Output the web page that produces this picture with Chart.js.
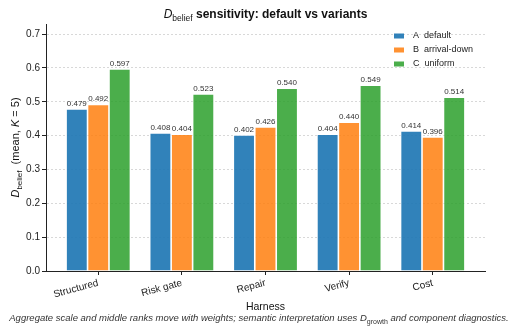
<!DOCTYPE html>
<html>
<head>
<meta charset="utf-8">
<script src="https://cdn.jsdelivr.net/npm/chart.js@4.4.0/dist/chart.umd.min.js"></script>
<style>
    html, body { margin: 0; padding: 0; background: #fff; }
    #wrap { width: 518px; height: 330px; }
</style>
</head>
<body>
<div id="wrap"><canvas id="beliefChart" width="518" height="330"></canvas></div>
<script>
// data
const harnesses = ['Structured', 'Risk gate', 'Repair', 'Verify', 'Cost'];
const variantLabels = ['A  default', 'B  arrival-down', 'C  uniform'];
const defaultVals = [0.479, 0.408, 0.402, 0.404, 0.414];
const arrivalDownVals = [0.492, 0.404, 0.426, 0.440, 0.396];
const uniformVals = [0.597, 0.523, 0.540, 0.549, 0.514];
const yTickVals = [0.0, 0.1, 0.2, 0.3, 0.4, 0.5, 0.6, 0.7];

const barColors = ['rgba(31,119,180,0.92)', 'rgba(255,127,14,0.85)', 'rgba(44,160,44,0.85)'];
const FONT = '"Liberation Sans", Arial, Helvetica, sans-serif';
Chart.defaults.font.family = FONT;
Chart.defaults.color = '#222';

function toPoints(vals) {
    return vals.map((v, i) => ({ x: i, y: v }));
}

// draws a list of text pieces (for subscripts / italics) centred at x,y
function drawRich(ctx, parts, x, y) {
    let total = 0;
    parts.forEach(p => { ctx.font = p.font; total += ctx.measureText(p.text).width; });
    let cx = x - total / 2;
    ctx.textAlign = 'left';
    ctx.textBaseline = 'alphabetic';
    parts.forEach(p => {
        ctx.font = p.font;
        ctx.fillText(p.text, cx, y + (p.dy || 0));
        cx += ctx.measureText(p.text).width;
    });
}

const textPlugin = {
    id: 'textPlugin',
    afterDatasetsDraw(chart) {
        const ctx = chart.ctx;
        // value labels on top of bars
        ctx.save();
        ctx.fillStyle = '#333';
        ctx.font = '8px ' + FONT;
        ctx.textAlign = 'center';
        ctx.textBaseline = 'bottom';
        chart.data.datasets.forEach((ds, di) => {
            chart.getDatasetMeta(di).data.forEach((bar, i) => {
                ctx.fillText(ds.data[i].y.toFixed(3), bar.x, bar.y - 1.5);
            });
        });
        ctx.restore();
    },
    afterDraw(chart) {
        const ctx = chart.ctx;
        const area = chart.chartArea;
        ctx.save();
        ctx.fillStyle = '#111';

        // title
        drawRich(ctx, [
            { text: 'D', font: 'italic 12px ' + FONT },
            { text: 'belief', font: '8.5px ' + FONT, dy: 2.5 },
            { text: ' sensitivity: default vs variants', font: 'bold 12px ' + FONT }
        ], (area.left + area.right) / 2, 18);

        // y axis title
        ctx.save();
        ctx.translate(19, (area.top + area.bottom) / 2);
        ctx.rotate(-Math.PI / 2);
        drawRich(ctx, [
            { text: 'D', font: 'italic 11px ' + FONT },
            { text: 'belief', font: '8px ' + FONT, dy: 2.5 },
            { text: '  (mean, ', font: '11px ' + FONT },
            { text: 'K', font: 'italic 11px ' + FONT },
            { text: ' = 5)', font: '11px ' + FONT }
        ], 0, 0);
        ctx.restore();

        // caption
        ctx.fillStyle = '#333';
        drawRich(ctx, [
            { text: 'Aggregate scale and middle ranks move with weights; semantic interpretation uses ', font: 'italic 9.5px ' + FONT },
            { text: 'D', font: 'italic 9.5px ' + FONT },
            { text: 'growth', font: '7px ' + FONT, dy: 2.5 },
            { text: ' and component diagnostics.', font: 'italic 9.5px ' + FONT }
        ], 259, 321);

        // legend inside plot, top right
        ctx.font = '9px ' + FONT;
        ctx.textAlign = 'left';
        ctx.textBaseline = 'middle';
        chart.data.datasets.forEach((ds, i) => {
            const y = area.top + 12 + i * 14;
            ctx.fillStyle = ds.backgroundColor;
            ctx.fillRect(area.right - 91, y - 2.5, 10, 5);
            ctx.fillStyle = '#222';
            ctx.fillText(ds.label, area.right - 72, y);
        });
        ctx.restore();
    }
};

const ctx = document.getElementById('beliefChart').getContext('2d');

const beliefChart = new Chart(ctx, {
    type: 'bar',
    data: {
        datasets: [
            { label: variantLabels[0], data: toPoints(defaultVals), backgroundColor: barColors[0] },
            { label: variantLabels[1], data: toPoints(arrivalDownVals), backgroundColor: barColors[1] },
            { label: variantLabels[2], data: toPoints(uniformVals), backgroundColor: barColors[2] }
        ]
    },
    options: {
        responsive: false,
        animation: false,
        devicePixelRatio: 1,
        layout: { padding: { top: 24, right: 33, left: 0, bottom: 0 } },
        datasets: {
            bar: {
                categoryPercentage: 0.77,
                barPercentage: 1.0,
                borderColor: '#fff',
                borderWidth: 0.8
            }
        },
        plugins: {
            legend: { display: false },
            tooltip: { enabled: false }
        },
        scales: {
            x: {
                type: 'linear',
                min: -0.625,
                max: 4.625,
                offset: false,
                afterFit: (scale) => { scale.height = 59; },
                afterBuildTicks: (scale) => {
                    scale.ticks = harnesses.map((_, i) => ({ value: i }));
                },
                ticks: {
                    callback: (v) => harnesses[v],
                    autoSkip: false,
                    minRotation: 15,
                    maxRotation: 15,
                    padding: 2,
                    font: { size: 10 },
                    color: '#222'
                },
                grid: {
                    offset: false,
                    drawOnChartArea: false,
                    drawTicks: true,
                    tickLength: 4,
                    tickColor: '#222'
                },
                border: { display: true, color: '#222', width: 1 },
                title: {
                    display: true,
                    text: 'Harness',
                    font: { size: 10.5 },
                    color: '#111',
                    padding: { top: 0, bottom: 17 }
                }
            },
            y: {
                min: 0,
                max: 0.73,
                afterFit: (scale) => { scale.width = 46; },
                afterBuildTicks: (scale) => {
                    scale.ticks = yTickVals.map(v => ({ value: v }));
                },
                ticks: {
                    callback: (v) => v.toFixed(1),
                    padding: 2,
                    font: { size: 10 },
                    color: '#222'
                },
                grid: {
                    color: '#cfcfcf',
                    lineWidth: 0.8,
                    tickLength: 4,
                    tickColor: '#222',
                    tickWidth: 1
                },
                border: { display: true, color: '#222', width: 1, dash: [2, 2] }
            }
        }
    },
    plugins: [textPlugin]
});
</script>
</body>
</html>
